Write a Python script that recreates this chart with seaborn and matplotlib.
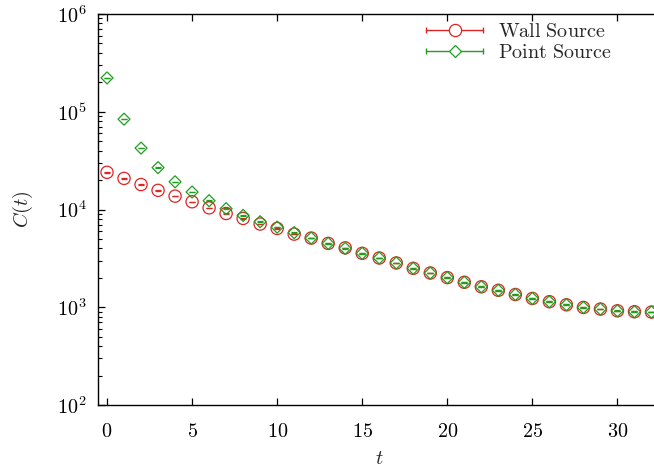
import numpy as np
import pandas as pd
import matplotlib
matplotlib.use("Agg")
import matplotlib.pyplot as plt
import seaborn as sns
from matplotlib.lines import Line2D
from matplotlib.legend_handler import HandlerBase
from matplotlib.ticker import FuncFormatter, LogLocator, FixedLocator

t_vals = list(range(33))
wall_vals = [2.40e4, 2.08e4, 1.80e4, 1.57e4, 1.37e4, 1.20e4, 1.04e4, 9.1e3, 8.1e3, 7.1e3,
             6.4e3, 5.6e3, 5.1e3, 4.5e3, 4.05e3, 3.56e3, 3.19e3, 2.84e3, 2.50e3, 2.24e3,
             2.01e3, 1.80e3, 1.62e3, 1.49e3, 1.35e3, 1.23e3, 1.14e3, 1.06e3, 995, 958,
             920, 900, 893]
wall_err = [150, 120, 100, 90, 80, 70, 60, 55, 50, 45,
            40, 35, 32, 28, 25, 22, 20, 18, 16, 14,
            13, 12, 11, 10, 9, 8, 8, 7, 7, 6,
            6, 6, 6]
point_vals = [2.22e5, 8.4e4, 4.25e4, 2.68e4, 1.92e4, 1.51e4, 1.23e4, 1.02e4, 8.7e3, 7.5e3,
              6.6e3, 5.8e3, 5.1e3, 4.5e3, 4.0e3, 3.56e3, 3.19e3, 2.84e3, 2.50e3, 2.24e3,
              2.01e3, 1.80e3, 1.62e3, 1.49e3, 1.35e3, 1.23e3, 1.14e3, 1.06e3, 995, 958,
              920, 900, 893]
point_err = [800, 300, 150, 100, 90, 90, 80, 80, 70, 60,
             50, 45, 40, 35, 30, 26, 23, 20, 18, 16,
             14, 13, 12, 11, 10, 9, 9, 8, 8, 7,
             7, 7, 7]
series_labels = ["Wall Source", "Point Source"]
x_ticks = [0, 5, 10, 15, 20, 25, 30]
y_ticks = [1e2, 1e3, 1e4, 1e5, 1e6]

RED = "#e02424"
GREEN = "#1f9e1f"
FS = 14.5

sns.set_theme(style="ticks")
plt.rcParams["mathtext.fontset"] = "cm"
plt.rcParams["font.family"] = ["DejaVu Serif"]

fig = plt.figure(figsize=(6.54, 4.68), dpi=100)
ax = fig.add_axes([98 / 654, 63 / 468, 562 / 654, (405 - 14) / 468])

df_w = pd.DataFrame({"t": t_vals, "C": wall_vals, "err": wall_err})
df_p = pd.DataFrame({"t": t_vals, "C": point_vals, "err": point_err})

for df, col, mk, ms in [(df_w, RED, "o", 8.8), (df_p, GREEN, "D", 6.1)]:
    ax.errorbar(df["t"], df["C"], yerr=df["err"], fmt="none", ecolor=col,
                elinewidth=0.8, capsize=2.3, capthick=0.9, zorder=2)
    sns.scatterplot(data=df, x="t", y="C", ax=ax, marker=mk, s=ms ** 2,
                    facecolor="none", edgecolor=col, linewidth=0.9, zorder=3,
                    legend=False)

ax.set_yscale("log")
ax.set_xlim(-0.53, 32.5)
ax.set_ylim(1e2, 1e6)

ax.xaxis.set_major_locator(FixedLocator(x_ticks))
ax.xaxis.set_major_formatter(FuncFormatter(lambda v, p: rf"${int(v)}$"))
ax.yaxis.set_major_locator(FixedLocator(y_ticks))
ax.yaxis.set_minor_locator(LogLocator(base=10, subs=np.arange(2, 10)))
ax.yaxis.set_major_formatter(FuncFormatter(lambda v, p: rf"$10^{{{int(round(np.log10(v)))}}}$"))
ax.yaxis.set_minor_formatter(FuncFormatter(lambda v, p: ""))

ax.tick_params(axis="both", which="major", direction="in", length=5, width=0.9,
               labelsize=FS, top=True, right=False, color="black", labelcolor="black")
ax.tick_params(axis="y", which="minor", direction="in", length=3, width=0.8,
               right=False, color="black")
ax.tick_params(axis="x", which="major", pad=12)
ax.tick_params(axis="y", which="major", pad=8)
for sp in ax.spines.values():
    sp.set_linewidth(1.0)
    sp.set_color("black")

ax.set_xlabel(r"$t$", fontsize=FS, labelpad=6)
ax.set_ylabel(r"$C(t)$", fontsize=FS, labelpad=16)
ax.grid(False)


class GPKey:
    def __init__(self, color, marker, ms):
        self.color = color
        self.marker = marker
        self.ms = ms


class GPHandler(HandlerBase):
    def create_artists(self, legend, orig_handle, xdescent, ydescent, width, height,
                       fontsize, trans):
        y = height / 2 - ydescent
        x0, x1 = -xdescent, width - xdescent
        line = Line2D([x0, x1], [y, y], color=orig_handle.color, lw=1.0, transform=trans)
        caps = Line2D([x0, x1], [y, y], ls="none", marker="|", ms=5, mew=1.0,
                      color=orig_handle.color, transform=trans)
        mk = Line2D([(x0 + x1) / 2], [y], ls="none", marker=orig_handle.marker,
                    ms=orig_handle.ms, mfc="white", mec=orig_handle.color, mew=0.9,
                    transform=trans)
        return [line, caps, mk]


keys = [GPKey(RED, "o", 8.8), GPKey(GREEN, "D", 6.1)]
labels = [rf"$\mathrm{{{s.replace(' ', chr(92) + ' ')}}}$" for s in series_labels]
leg = fig.legend(keys, labels, handler_map={GPKey: GPHandler()},
                 loc="upper left", bbox_to_anchor=(426 / 654, 1 - 22 / 468),
                 frameon=False, fontsize=FS, handlelength=2.85, handletextpad=0.72,
                 labelspacing=0.12, borderpad=0, borderaxespad=0)

fig.savefig("out.png", dpi=100)
